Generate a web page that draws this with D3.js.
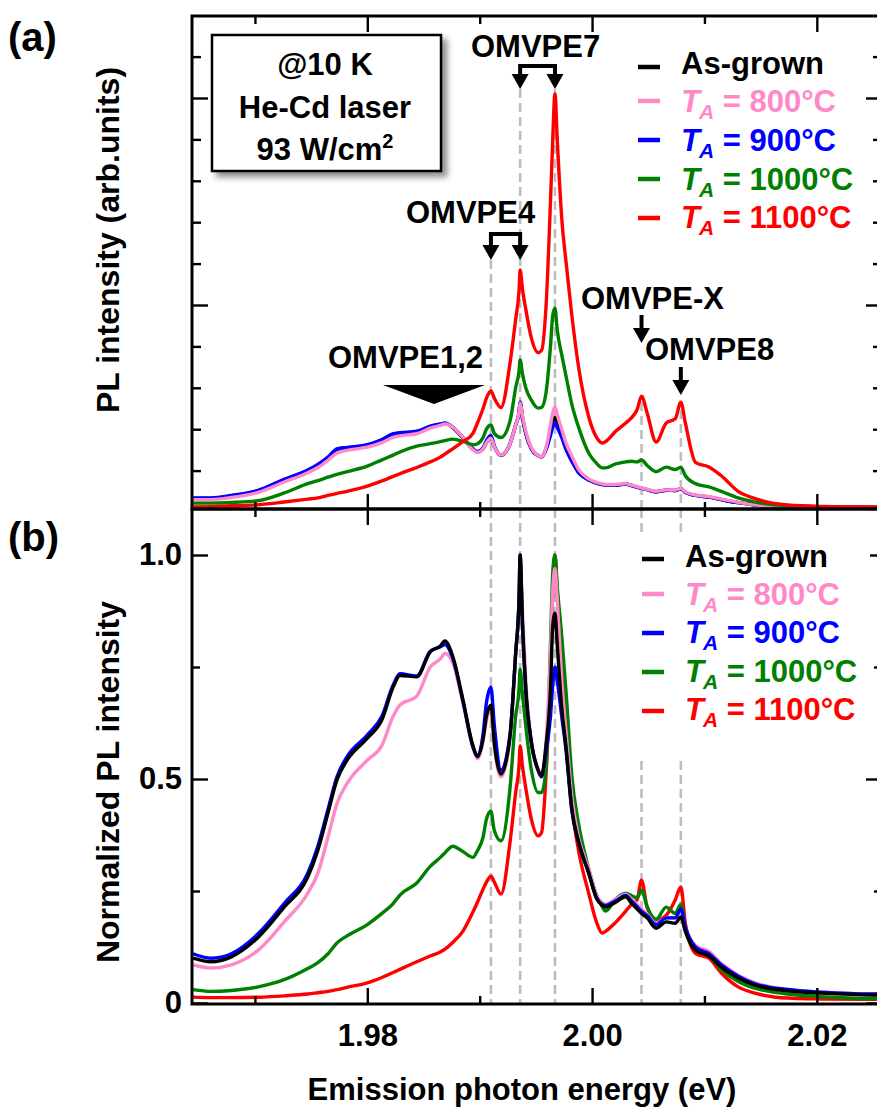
<!DOCTYPE html>
<html><head><meta charset="utf-8">
<script src="https://cdn.jsdelivr.net/npm/d3@7"></script>
<style>
body{margin:0;background:#fff;}
text{font-family:"Liberation Sans",Arial,Helvetica,sans-serif;font-weight:bold;}
</style></head>
<body><svg id="c" width="877" height="1110"></svg>
<script>
// ---------------- DATA ----------------
const energy = [1.9645,1.9661,1.9679,1.9703,1.9726,1.9747,1.9756,1.9765,1.9773,1.9782,
 1.9800,1.9813,1.9823,1.9829,1.9844,1.9856,1.9865,1.9869,1.9876,1.9885,
 1.9894,1.9898,1.9903,1.9906,1.9910,1.9913,1.9919,1.9927,1.9932,1.9935,
 1.9936,1.9938,1.9941,1.9946,1.9952,1.9955,1.9959,1.9963,1.9965,1.9967,
 1.9969,1.9973,1.9977,1.9982,1.9988,1.9997,2.0004,2.0009,2.0012,2.0021,
 2.0030,2.0035,2.0040,2.0044,2.0049,2.0057,2.0066,2.0074,2.0079,2.0083,
 2.0092,2.0104,2.0115,2.0130,2.0145,2.0174,2.0204,2.0250,2.0258];

// panel (a): PL intensity (arb. units)
const rawAsGrown = [0.066,0.066,0.078,0.103,0.155,0.200,0.227,0.262,0.302,0.310,
 0.322,0.347,0.375,0.380,0.387,0.413,0.423,0.428,0.408,0.358,
 0.303,0.290,0.305,0.335,0.355,0.315,0.273,0.330,0.420,0.480,
 0.531,0.460,0.380,0.305,0.272,0.266,0.305,0.390,0.440,0.455,
 0.430,0.370,0.305,0.248,0.192,0.155,0.140,0.133,0.130,0.130,
 0.135,0.128,0.120,0.114,0.108,0.098,0.105,0.104,0.112,0.095,
 0.080,0.072,0.060,0.045,0.034,0.026,0.024,0.022,0.022];
const raw800 = [0.060,0.060,0.070,0.095,0.145,0.190,0.215,0.250,0.285,0.298,
 0.313,0.335,0.360,0.368,0.378,0.405,0.418,0.425,0.410,0.360,
 0.300,0.288,0.305,0.335,0.357,0.315,0.275,0.330,0.420,0.480,
 0.527,0.470,0.390,0.310,0.272,0.266,0.310,0.420,0.480,0.507,
 0.470,0.400,0.330,0.270,0.205,0.160,0.143,0.136,0.133,0.133,
 0.137,0.130,0.122,0.116,0.110,0.100,0.107,0.106,0.114,0.097,
 0.082,0.074,0.062,0.047,0.035,0.027,0.025,0.023,0.023];
const raw900 = [0.068,0.068,0.080,0.105,0.158,0.203,0.230,0.265,0.305,0.312,
 0.325,0.350,0.378,0.383,0.390,0.415,0.425,0.430,0.410,0.360,
 0.305,0.292,0.310,0.345,0.370,0.320,0.275,0.330,0.420,0.480,
 0.531,0.460,0.380,0.305,0.272,0.266,0.300,0.370,0.410,0.430,
 0.410,0.360,0.300,0.245,0.190,0.155,0.140,0.133,0.130,0.130,
 0.135,0.128,0.120,0.114,0.108,0.098,0.105,0.104,0.112,0.095,
 0.080,0.072,0.060,0.045,0.034,0.026,0.024,0.022,0.022];
const raw1000 = [0.043,0.043,0.046,0.055,0.092,0.137,0.152,0.168,0.182,0.195,
 0.222,0.252,0.275,0.290,0.318,0.330,0.340,0.345,0.352,0.342,
 0.325,0.330,0.360,0.400,0.420,0.380,0.360,0.440,0.600,0.680,
 0.734,0.670,0.600,0.540,0.502,0.505,0.575,0.800,0.950,0.985,
 0.880,0.760,0.652,0.520,0.410,0.285,0.235,0.213,0.213,0.232,
 0.242,0.245,0.242,0.251,0.225,0.195,0.217,0.205,0.217,0.175,
 0.137,0.121,0.100,0.068,0.048,0.030,0.025,0.023,0.023];
const raw1100 = [0.024,0.026,0.030,0.035,0.048,0.062,0.068,0.080,0.090,0.100,
 0.125,0.150,0.172,0.185,0.215,0.242,0.265,0.280,0.305,0.340,
 0.380,0.430,0.500,0.550,0.585,0.550,0.505,0.720,0.930,1.070,
 1.169,1.080,0.980,0.840,0.770,0.780,0.990,1.500,1.800,2.020,
 1.800,1.420,1.200,0.950,0.700,0.460,0.360,0.333,0.340,0.390,
 0.430,0.455,0.493,0.560,0.478,0.338,0.430,0.450,0.531,0.430,
 0.240,0.217,0.175,0.100,0.065,0.034,0.027,0.024,0.024];

// panel (b): normalized PL intensity
const normAsGrown = [0.100,0.092,0.103,0.147,0.214,0.281,0.341,0.424,0.498,0.542,
 0.591,0.632,0.705,0.731,0.728,0.784,0.797,0.808,0.774,0.678,
 0.574,0.551,0.589,0.640,0.665,0.580,0.511,0.596,0.780,0.900,
 1.000,0.850,0.700,0.583,0.520,0.507,0.575,0.700,0.840,0.870,
 0.800,0.660,0.567,0.433,0.359,0.290,0.233,0.218,0.214,0.225,
 0.237,0.223,0.210,0.200,0.190,0.167,0.181,0.178,0.192,0.160,
 0.118,0.105,0.080,0.056,0.040,0.027,0.022,0.018,0.018];
const norm800 = [0.085,0.078,0.085,0.118,0.181,0.245,0.290,0.370,0.445,0.490,
 0.542,0.575,0.640,0.665,0.685,0.750,0.768,0.780,0.760,0.670,
 0.570,0.545,0.585,0.630,0.655,0.575,0.505,0.590,0.780,0.900,
 0.990,0.880,0.720,0.580,0.520,0.505,0.580,0.780,0.920,0.970,
 0.900,0.720,0.600,0.460,0.370,0.300,0.240,0.225,0.220,0.232,
 0.243,0.232,0.220,0.210,0.198,0.178,0.190,0.190,0.205,0.170,
 0.128,0.115,0.088,0.062,0.045,0.030,0.024,0.020,0.020];
const norm900 = [0.110,0.100,0.110,0.155,0.222,0.290,0.350,0.432,0.505,0.550,
 0.598,0.640,0.710,0.735,0.730,0.785,0.795,0.800,0.770,0.675,
 0.572,0.550,0.600,0.670,0.705,0.620,0.520,0.600,0.780,0.900,
 1.000,0.850,0.700,0.580,0.520,0.505,0.560,0.640,0.710,0.750,
 0.720,0.640,0.560,0.430,0.360,0.290,0.235,0.220,0.218,0.228,
 0.240,0.228,0.215,0.205,0.195,0.175,0.190,0.190,0.210,0.170,
 0.125,0.110,0.085,0.060,0.043,0.030,0.024,0.020,0.020];
const norm1000 = [0.030,0.026,0.028,0.036,0.052,0.077,0.090,0.110,0.134,0.150,
 0.175,0.200,0.222,0.241,0.268,0.305,0.325,0.335,0.350,0.338,
 0.325,0.340,0.370,0.410,0.428,0.385,0.362,0.480,0.640,0.700,
 0.745,0.690,0.618,0.520,0.470,0.470,0.522,0.800,0.960,1.000,
 0.930,0.820,0.690,0.507,0.400,0.300,0.240,0.215,0.205,0.232,
 0.245,0.240,0.235,0.252,0.215,0.187,0.214,0.200,0.220,0.165,
 0.120,0.105,0.075,0.048,0.033,0.020,0.014,0.010,0.010];
const norm1100 = [0.013,0.012,0.012,0.013,0.016,0.020,0.023,0.026,0.030,0.035,
 0.045,0.057,0.068,0.075,0.092,0.105,0.114,0.120,0.135,0.160,
 0.203,0.225,0.254,0.270,0.283,0.270,0.243,0.359,0.470,0.530,
 0.574,0.530,0.480,0.410,0.373,0.380,0.507,0.750,0.920,1.000,
 0.920,0.750,0.580,0.440,0.340,0.245,0.180,0.156,0.160,0.180,
 0.205,0.220,0.230,0.274,0.214,0.185,0.196,0.230,0.259,0.178,
 0.111,0.100,0.067,0.036,0.022,0.011,0.009,0.008,0.008];

const seriesKeys = ["As-grown","800","900","1000","1100"];
const seriesColors = ["#000000","#ff88c8","#0000ff","#008000","#ff0000"];
const rawSeries = [rawAsGrown, raw800, raw900, raw1000, raw1100];
const normSeries = [normAsGrown, norm800, norm900, norm1000, norm1100];

const xMajorTicks = [1.98, 2.00, 2.02];
const xMinorTicks = [1.97, 1.99, 2.01];
const xTickLabels = ["1.98", "2.00", "2.02"];
const yAMajorTicks = [1, 2];
const yAMinorTicks = [0.2,0.4,0.6,0.8,1.2,1.4,1.6,1.8,2.2];
const yBMajorTicks = [0, 0.5, 1.0];
const yBMinorTicks = [0.25, 0.75];
const yBTickLabels = ["0", "0.5", "1.0"];

// peak markers (eV)
const peakOMVPE4 = [1.9910, 1.9936];
const peakOMVPE7 = [1.9936, 1.9967];
const peakOMVPEX = 2.0044;
const peakOMVPE8 = 2.0079;

// ---------------- LAYOUT ----------------
const svg = d3.select("#c");
const L = 192, R = 882, TA = 16, MID = 509, BB = 1004;
const x = d3.scaleLinear().domain([1.9644, 2.0258]).range([L, R]);
const yA = d3.scaleLinear().domain([0, 2]).range([512, 98]);
const yB = d3.scaleLinear().domain([0, 1]).range([1003, 555]);

const defs = svg.append("defs");
defs.append("clipPath").attr("id","clipA").append("rect").attr("x",L).attr("y",TA).attr("width",R-L).attr("height",MID-TA);
defs.append("clipPath").attr("id","clipB").append("rect").attr("x",L).attr("y",MID).attr("width",R-L).attr("height",BB-MID);
const f = defs.append("filter").attr("id","shadow").attr("x","-10%").attr("y","-10%").attr("width","130%").attr("height","140%");
f.append("feDropShadow").attr("dx",5).attr("dy",5).attr("stdDeviation",3).attr("flood-color","#000").attr("flood-opacity",0.45);

// dashed guide lines
const dash = svg.append("g").attr("stroke","#bdbdbd").attr("stroke-width",2.6).attr("stroke-dasharray","9,5");
function vline(e, y1, y2){ dash.append("line").attr("x1",x(e)).attr("x2",x(e)).attr("y1",y1).attr("y2",y2); }
// panel a
vline(peakOMVPE4[0], 260, MID);
vline(peakOMVPE7[0], 89, MID);
vline(peakOMVPE7[1], 89, MID);
vline(peakOMVPEX, 402, MID);
vline(peakOMVPE8, 410, MID);
// panel b
vline(peakOMVPE4[0], MID, BB);
vline(peakOMVPE7[0], MID, BB);
vline(peakOMVPE7[1], MID, BB);
vline(peakOMVPEX, MID, BB);
vline(peakOMVPE8, MID, BB);

// curves
const lineA = (arr) => d3.line().x((d,i)=>x(energy[i])).y(d=>yA(d)).curve(d3.curveMonotoneX)(arr);
const lineB = (arr) => d3.line().x((d,i)=>x(energy[i])).y(d=>yB(d)).curve(d3.curveMonotoneX)(arr);
const gA = svg.append("g").attr("clip-path","url(#clipA)");
[0,2,1,3,4].forEach(i=>{
  gA.append("path").attr("d", lineA(rawSeries[i])).attr("fill","none")
    .attr("stroke", seriesColors[i]).attr("stroke-width",3.4).attr("stroke-linejoin","round");
});
const gB = svg.append("g").attr("clip-path","url(#clipB)");
[4,3,1,2,0].forEach(i=>{
  gB.append("path").attr("d", lineB(normSeries[i])).attr("fill","none")
    .attr("stroke", seriesColors[i]).attr("stroke-width",3.4).attr("stroke-linejoin","round");
});

// axes
function styleAxis(g){ g.select(".domain").remove(); g.selectAll(".tick line").attr("stroke","#000").attr("stroke-width",2.4); g.selectAll("text").attr("fill","#000"); }
function xAxes(yPos, dir, size, vals){
  const ax = (dir==="top" ? d3.axisTop(x) : d3.axisBottom(x)).tickValues(vals).tickSize(size).tickFormat("");
  svg.append("g").attr("transform",`translate(0,${yPos})`).call(ax).call(styleAxis);
}
xAxes(TA, "top", -16, xMajorTicks); xAxes(TA, "top", -8, xMinorTicks);
xAxes(MID, "bottom", -15, xMajorTicks); xAxes(MID, "bottom", -7, xMinorTicks);
xAxes(MID, "top", -16, xMajorTicks); xAxes(MID, "top", -8, xMinorTicks);
xAxes(BB, "bottom", -8, xMinorTicks);
svg.append("g").attr("transform",`translate(0,${BB})`)
  .call(d3.axisBottom(x).tickValues(xMajorTicks).tickSize(-16).tickPadding(20).tickFormat((d,i)=>xTickLabels[i]))
  .call(styleAxis).selectAll("text").attr("font-size",31).attr("font-family",'"Liberation Sans",Arial,sans-serif').attr("font-weight","bold");

function yAxes(scale, xPos, dir, size, vals, labels){
  const ax = (dir==="left" ? d3.axisLeft(scale) : d3.axisRight(scale)).tickValues(vals).tickSize(size)
    .tickPadding(10).tickFormat(labels ? (d,i)=>labels[i] : "");
  const g = svg.append("g").attr("transform",`translate(${xPos},0)`).call(ax).call(styleAxis);
  g.selectAll("text").attr("font-size",31).attr("font-family",'"Liberation Sans",Arial,sans-serif').attr("font-weight","bold");
}
yAxes(yA, L, "left", -16, yAMajorTicks); yAxes(yA, L, "left", -9, yAMinorTicks);
yAxes(yA, R, "right", -16, yAMajorTicks); yAxes(yA, R, "right", -9, yAMinorTicks);
yAxes(yB, L, "left", -16, yBMajorTicks, yBTickLabels); yAxes(yB, L, "left", -8, yBMinorTicks);
yAxes(yB, R, "right", -16, yBMajorTicks); yAxes(yB, R, "right", -8, yBMinorTicks);

// frames
svg.append("rect").attr("x",L).attr("y",TA).attr("width",R-L).attr("height",MID-TA).attr("fill","none").attr("stroke","#000").attr("stroke-width",3);
svg.append("rect").attr("x",L).attr("y",MID).attr("width",R-L).attr("height",BB-MID).attr("fill","none").attr("stroke","#000").attr("stroke-width",3);

// panel labels and axis titles
svg.append("text").attr("x",8).attr("y",51).attr("font-size",40).text("(a)");
svg.append("text").attr("x",8).attr("y",551).attr("font-size",40).text("(b)");
svg.append("text").attr("transform","translate(119,240) rotate(-90)").attr("text-anchor","middle").attr("font-size",32).text("PL intensity (arb.units)");
svg.append("text").attr("transform","translate(119,782) rotate(-90)").attr("text-anchor","middle").attr("font-size",32).text("Normalized PL intensity");
svg.append("text").attr("x",522).attr("y",1100).attr("text-anchor","middle").attr("font-size",31).text("Emission photon energy (eV)");

// info box
svg.append("rect").attr("x",212).attr("y",35).attr("width",229).attr("height",136).attr("fill","#fff").attr("stroke","#000").attr("stroke-width",2.5).attr("filter","url(#shadow)");
const boxLines = ["@10 K","He-Cd laser"];
boxLines.forEach((t,i)=>svg.append("text").attr("x",325).attr("y",75+i*43).attr("text-anchor","middle").attr("font-size",31).text(t));
const b3 = svg.append("text").attr("x",325).attr("y",160).attr("text-anchor","middle").attr("font-size",31);
b3.append("tspan").text("93 W/cm");
b3.append("tspan").attr("font-size",20).attr("dy",-12).text("2");

// legends
function legend(x0, lineY, textY){
  seriesKeys.forEach((k,i)=>{
    svg.append("line").attr("x1",x0).attr("x2",x0+22).attr("y1",lineY[i]).attr("y2",lineY[i])
      .attr("stroke",seriesColors[i]).attr("stroke-width",4.5);
    const t = svg.append("text").attr("x",x0+43).attr("y",textY[i]).attr("font-size",31).attr("fill",seriesColors[i]);
    if(i===0){ t.text(k); }
    else {
      t.append("tspan").attr("font-style","italic").text("T");
      t.append("tspan").attr("font-style","italic").attr("font-size",21).attr("dx",-1).attr("dy",7).text("A");
      t.append("tspan").attr("dy",-7).text(" = " + k + "°C");
    }
  });
}
legend(638, [67,101,140,179,218], [74,112,151,190,228]);
svg.append("rect").attr("x",630).attr("y",533).attr("width",240).attr("height",224).attr("fill","#fff");
legend(642, [559,594,633,672,711], [567,605,643,682,720]);

// annotations
const ann = svg.append("g");
function annText(t, xx, yy){ ann.append("text").attr("x",xx).attr("y",yy).attr("font-size",31).text(t); }
annText("OMVPE7", 471, 57);
annText("OMVPE4", 406, 223);
annText("OMVPE1,2", 328, 368);
annText("OMVPE-X", 581, 309);
annText("OMVPE8", 645, 360);
function downArrow(xx, y1, tip){
  ann.append("line").attr("x1",xx).attr("x2",xx).attr("y1",y1).attr("y2",tip-12).attr("stroke","#000").attr("stroke-width",4);
  ann.append("path").attr("d",`M${xx-8.5},${tip-15} L${xx+8.5},${tip-15} L${xx},${tip} Z`).attr("fill","#000");
}
function bracket(e1, e2, yBar, tip){
  const x1 = x(e1), x2 = x(e2);
  ann.append("path").attr("d",`M${x1},${yBar} L${x2},${yBar}`).attr("stroke","#000").attr("stroke-width",4).attr("fill","none");
  downArrow(x1, yBar-2, tip); downArrow(x2, yBar-2, tip);
}
bracket(peakOMVPE7[0], peakOMVPE7[1], 66, 89);
bracket(peakOMVPE4[0], peakOMVPE4[1], 234, 260);
downArrow(x(peakOMVPEX), 315, 343);
downArrow(x(peakOMVPE8), 367, 395);
ann.append("path").attr("d","M383,385 L485,385 L434,404 Z").attr("fill","#000");
</script></body></html>
